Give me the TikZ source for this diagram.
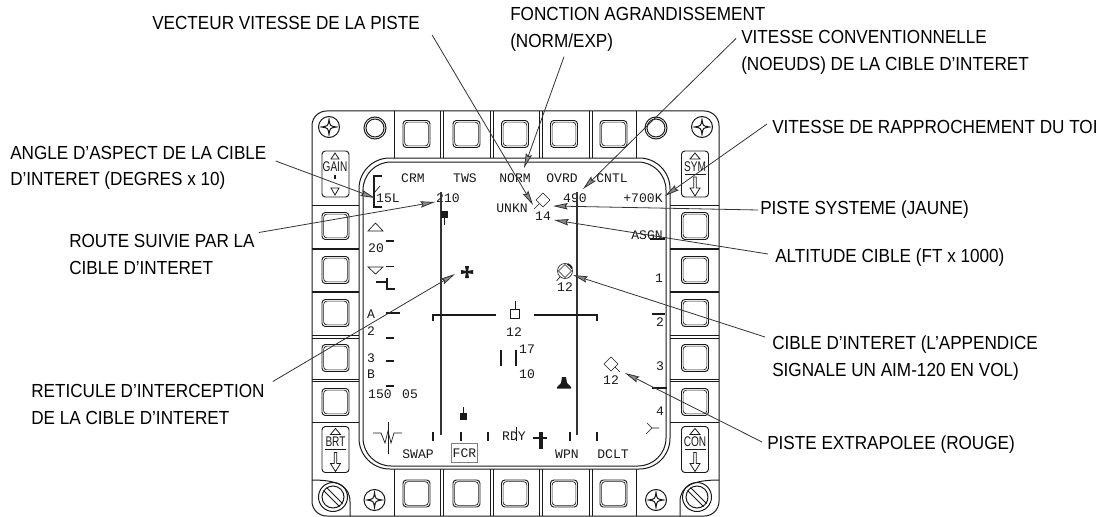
\documentclass[tikz,border=0pt]{standalone}
\usepackage{fontspec}
\usepackage{xcolor}
\usetikzlibrary{arrows.meta,calc}
\setmainfont[FakeStretch=0.905]{Liberation Sans}
\newfontfamily\crtfont{Liberation Mono}
\newfontfamily\rockerfont[FakeStretch=0.72]{Liberation Sans}
\definecolor{ink}{HTML}{1A1A1A}
\definecolor{wire}{HTML}{333333}
\definecolor{tipgrey}{HTML}{8A8A8A}

\begin{document}
\begin{tikzpicture}[
  x=0.75pt, y=-0.75pt,
  panel/.style={draw=ink, line width=0.75pt},
  osbkey/.style={draw=ink, line width=0.7pt, rounded corners=2.5pt},
  callout/.style={anchor=west, align=left, text=black, inner sep=1.5pt,
    font=\fontsize{14.2}{20}\selectfont},
  leader/.style={draw=wire, line width=0.6pt,
    -{Stealth[length=11pt, width=4.8pt, inset=1.5pt, fill=tipgrey]}},
  crt/.style={font=\crtfont\fontsize{9.8}{10}\selectfont, text=ink, inner sep=0pt},
  rockerlabel/.style={font=\rockerfont\fontsize{10.5}{10}\selectfont, text=ink, inner sep=0pt},
  cursor/.style={draw=wire, line width=1.3pt},
  tick/.style={draw=ink, line width=0.8pt},
  trace/.style={draw=ink, line width=0.5pt},
  osb/.pic={
    \draw[osbkey] (0,0) rectangle (27,27);
    \draw[osbkey, line width=0.5pt] (1.6,1.6) rectangle (25.4,25.4);
  },
  starscrew/.pic={
    \draw[panel] (0,0) circle (10.5);
    \draw[panel] (0,-7.5) .. controls (1,-1) .. (7.5,0) .. controls (1,1) .. (0,7.5)
      .. controls (-1,1) .. (-7.5,0) .. controls (-1,-1) .. cycle;
  },
  slotscrew/.pic={
    \draw[panel] (0,0) circle (14.5);
    \draw[panel] (0,0) circle (11);
    \draw[panel] (-9.5,-6.5) -- (6.5,9.5);
    \draw[panel] (-6.5,-9.5) -- (9.5,6.5);
  },
  arrowrocker/.pic={
    \draw[osbkey] (-13.5,-23) rectangle (13.5,23);
    \draw[panel, line width=0.6pt] (-5,-15) -- (0,-21) -- (5,-15) -- cycle;
    \draw[panel] (-10.5,0) -- (10.5,0);
    \draw[panel, line width=0.6pt] (-1.2,3) -- (-1.2,14) -- (-5,14) -- (0,22) -- (5,14) -- (1.2,14) -- (1.2,3) -- cycle;
  }
]

\useasboundingbox (0,0) rectangle (1107,517);
\fill[white] (0,0) rectangle (1107,517);

% bezel
\draw[panel, rounded corners=11pt] (312,111) rectangle (719,516);
\draw[panel] (312,480) .. controls (338,480) and (350,486) .. (350,502) -- (350,516);
\draw[panel] (719,480) .. controls (693,480) and (680,486) .. (680,502) -- (680,516);
\draw[panel, rounded corners=23pt] (359,158) rectangle (670,469);
\draw[panel, rounded corners=21pt] (363,162) rectangle (666,466);

% key rows
\foreach \kx in {394,636} {
  \draw[panel] (\kx,111) -- (\kx,158);
  \draw[panel] (\kx,469) -- (\kx,516);
}
\foreach \kx in {440,490,539,589} {
  \draw[panel] (\kx,111) -- (\kx,158);
  \draw[panel] (\kx+3,111) -- (\kx+3,158);
  \draw[panel] (\kx,469) -- (\kx,516);
  \draw[panel] (\kx+3,469) -- (\kx+3,516);
}
\foreach \kx in {403,453,501.5,550.5,600} {
  \pic at (\kx,120.5) {osb};
  \pic at (\kx,480) {osb};
}
\foreach \ky in {212.5,256.5,299.5,344.5,388.5} {
  \pic at (322,\ky) {osb};
  \pic at (681.5,\ky) {osb};
}
\foreach \ky in {205,248,291,335,379,422} {
  \draw[panel] (312,\ky) -- (359,\ky);
  \draw[panel] (670,\ky) -- (719,\ky);
}
\foreach \ky in {249.5,292.5,338,381.5} {
  \draw[panel] (312,\ky) -- (359,\ky);
  \draw[panel] (670,\ky) -- (719,\ky);
}

% screws
\pic at (329,127) {starscrew};
\pic at (702,127) {starscrew};
\pic at (374.5,500) {starscrew};
\pic at (656,500) {starscrew};
\pic at (333,497) {slotscrew};
\pic at (697,497) {slotscrew};
\foreach \rx in {375,656} {
  \draw[panel] (\rx,128) circle (11);
  \draw[panel] (\rx,128) circle (9);
}

% rockers
\draw[osbkey] (322,151) rectangle (349,197);
\draw[panel, line width=0.6pt] (331,159) -- (335,153) -- (339,159) -- cycle;
\draw[panel, line width=0.6pt] (331,188) -- (335,195) -- (339,188) -- cycle;
\fill[ink] (334,175) rectangle (336,179);
\node[rockerlabel] (gainlabel) at (335,167) {GAIN};
\pic at (335.5,449.5) {arrowrocker};
\node[rockerlabel] (brtlabel) at (335.5,442) {BRT};
\pic at (695,174) {arrowrocker};
\node[rockerlabel] (symlabel) at (695,166.5) {SYM};
\pic at (695,449.5) {arrowrocker};
\node[rockerlabel] (conlabel) at (695,442) {CON};

% display text
\node[crt] (crm) at (413,178) {CRM};
\node[crt] (tws) at (465,178) {TWS};
\node[crt] (norm) at (515,178) {NORM};
\node[crt] (ovrd) at (562,178) {OVRD};
\node[crt] (cntl) at (612,178) {CNTL};
\node[crt] (aspect) at (388,198) {15L};
\node[crt] (course) at (448,198) {210};
\node[crt] (unkn) at (512,208) {UNKN};
\node[crt] (alt) at (543,216) {14};
\node[crt] (cas) at (575,198) {490};
\node[crt] (closure) at (643,198) {+700K};
\node[crt] (asgn) at (647,235) {ASGN};
\node[crt] (pageone) at (659,278) {1};
\node[crt] (pagetwo) at (660,322) {2};
\node[crt] (pagethree) at (660,366) {3};
\node[crt] (pagefour) at (660,411) {4};
\node[crt] (bugalt) at (565,287) {12};
\node[crt] (range) at (376,248) {20};
\node[crt] (scana) at (371,314) {A};
\node[crt] (scantwo) at (371,331) {2};
\node[crt] (scanthree) at (371,358) {3};
\node[crt] (scanb) at (371,374) {B};
\node[crt] (bearing) at (380,394) {150};
\node[crt] (bars) at (410,394) {05};
\node[crt] (sysalt) at (514,332) {12};
\node[crt] (upper) at (527,349) {17};
\node[crt] (lower) at (527,374) {10};
\node[crt] (extrapalt) at (611,380) {12};
\node[crt] (rdy) at (514,436) {RDY};
\node[crt] (swap) at (418,454) {SWAP};
\node[crt, draw=gray, line width=0.7pt, minimum width=20pt, minimum height=14pt] (fcr) at (464.5,453) {FCR};
\node[crt] (wpn) at (567,454) {WPN};
\node[crt] (dclt) at (613,454) {DCLT};

% display symbols
\draw[cursor] (441,192) -- (441,435);
\draw[cursor] (577,192) -- (577,435);
\draw[tick] (382,176) -- (374,176) -- (374,207) -- (382,207);
\draw[trace] (374,193) -- (380,186);
\draw[trace] (368,231) -- (375.5,223) -- (383,231) -- cycle;
\draw[trace] (368,267) -- (375.5,274) -- (383,267) -- cycle;
\draw[tick] (386,241) -- (394,241);
\draw[trace] (386,266) -- (394,266);
\draw[draw=ink, line width=1.9pt] (376,282) -- (387,282);
\draw[draw=ink, line width=1.5pt] (387,278) -- (387,289) -- (395,289);
\draw[tick] (386,313) -- (400,313);
\draw[tick] (386,338) -- (394,338);
\draw[tick] (386,361) -- (394,361);
\draw[tick] (386,386) -- (394,386);
\fill[ink] (440.5,211) rectangle (447.5,218);
\draw[trace] (444,218) -- (444,225);
% reticle
\fill[ink] (466,272) -- (465,266) -- (469,266) -- (468,272) -- cycle;
\fill[ink] (466,272) -- (465,278) -- (469,278) -- (468,272) -- cycle;
\fill[ink] (467,271) -- (461,270) -- (461,274) -- (467,273) -- cycle;
\fill[ink] (467,271) -- (473,270) -- (473,274) -- (467,273) -- cycle;
% system track
\draw[trace] (543,193) -- (550,200) -- (543,207) -- (536,200) -- cycle;
\draw[trace] (539,204) -- (534,209);
% bugged target
\draw[trace] (565,271) circle (7.5);
\draw[trace] (565,264.5) -- (571.5,271) -- (565,277.5) -- (558.5,271) -- cycle;
\draw[draw=ink, line width=1.4pt] (567.5,264) arc (-70:-20:7.5);
\draw[trace] (560,277) -- (556.5,281);
% range bar
\draw[tick] (433,321) -- (433,315) -- (496,315);
\draw[tick] (534,315) -- (597,315) -- (597,321);
\draw[trace] (510.5,309) rectangle (519.5,318);
\draw[trace] (515,301) -- (515,309);
\draw[tick] (501,350) -- (501,366);
\draw[tick] (516,350) -- (516,366);
% ownship contact
\fill[ink] (562,377) -- (566,377) -- (567,383) -- (571,387) -- (571,388.5) -- (557,388.5) -- (557,387) -- (561,383) -- cycle;
% extrapolated track
\draw[trace] (611,357) -- (618,364) -- (611,371) -- (604,364) -- cycle;
\draw[trace] (615,367) -- (620,372);
% right ticks
\draw[tick] (650,239) -- (665,239);
\draw[tick] (652,314) -- (665,314);
\draw[tick] (652,388) -- (667,388);
\draw[trace] (647,423) -- (652,428) -- (659,428);
\draw[trace] (646,434) -- (652,428);
% bottom marks
\foreach \mx in {433,461,488,570,597} {
  \draw[tick] (\mx,432) -- (\mx,441);
}
\draw[trace] (516,427) -- (516,441);
\fill[ink] (460,412.5) rectangle (467,419.5);
\draw[trace] (463.5,407) -- (463.5,412.5);
\draw[draw=ink, line width=2pt] (533,438) -- (547,438);
\draw[draw=ink, line width=2.6pt] (541,432) -- (541,449);
\draw[trace] (388,422) -- (388,454);
\draw[trace] (373,433) -- (381,433) -- (385,443) -- (388,431) -- (391,443) -- (394,433) -- (402,433);

% callouts
\node[callout] (lblvector) at (150,23) {VECTEUR VITESSE DE LA PISTE};
\node[callout] (lblzoom) at (508,29.5) {FONCTION AGRANDISSEMENT\\(NORM/EXP)};
\node[callout] (lblcas) at (739,52.5) {VITESSE CONVENTIONNELLE\\(NOEUDS) DE LA CIBLE D’INTERET};
\node[callout] (lblclosure) at (770,127) {VITESSE DE RAPPROCHEMENT DU TOI};
\node[callout] (lblaspect) at (8,168) {ANGLE D’ASPECT DE LA CIBLE\\D’INTERET (DEGRES x 10)};
\node[callout] (lblsystem) at (758,210) {PISTE SYSTEME (JAUNE)};
\node[callout] (lblcourse) at (67,254.5) {ROUTE SUIVIE PAR LA\\CIBLE D’INTERET};
\node[callout] (lblalt) at (773,258) {ALTITUDE CIBLE (FT x 1000)};
\node[callout] (lblbug) at (770,358) {CIBLE D’INTERET (L’APPENDICE\\SIGNALE UN AIM-120 EN VOL)};
\node[callout] (lblreticle) at (29,404.5) {RETICULE D’INTERCEPTION\\DE LA CIBLE D’INTERET};
\node[callout] (lblextrap) at (765,445) {PISTE EXTRAPOLEE (ROUGE)};

\coordinate (tipvector) at (533,205);
\coordinate (tipzoom) at (524,168);
\coordinate (tipcas) at (583,189);
\coordinate (tipclosure) at (665,196);
\coordinate (tipaspect) at (375,198);
\coordinate (tipsystem) at (553,206);
\coordinate (tipcourse) at (435,202);
\coordinate (tipalt) at (554,220);
\coordinate (tipbug) at (573,275);
\coordinate (tipreticle) at (455,274);
\coordinate (tipextrap) at (625,373);

\draw[leader] ([shift={(10,3)}]lblvector.south east) -- (tipvector);
\draw[leader] ([shift={(56,3)}]lblzoom.south west) -- (tipzoom);
\draw[leader] ([shift={(-3,-14)}]lblcas.west) -- (tipcas);
\draw[leader] ([shift={(-3,-3)}]lblclosure.west) -- (tipclosure);
\draw[leader] ([shift={(7,-7)}]lblaspect.east) -- (tipaspect);
\draw[leader] (lblsystem.west) -- (tipsystem);
\draw[leader] ([shift={(2,-22)}]lblcourse.east) -- (tipcourse);
\draw[leader] ([shift={(-5,-4)}]lblalt.west) -- (tipalt);
\draw[leader] ([shift={(-5,-21)}]lblbug.west) -- (tipbug);
\draw[leader] ([shift={(6,-23)}]lblreticle.east) -- (tipreticle);
\draw[leader] ([shift={(-3,-3)}]lblextrap.west) -- (tipextrap);

\end{tikzpicture}
\end{document}
